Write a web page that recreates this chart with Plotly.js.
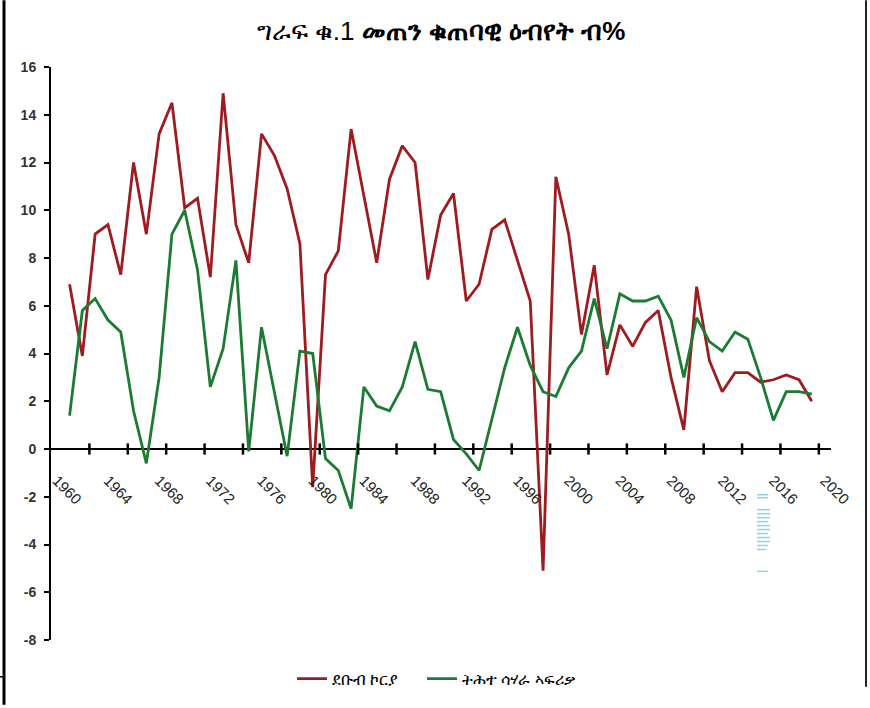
<!DOCTYPE html>
<html>
<head>
<meta charset="utf-8">
<script src="https://cdn.plot.ly/plotly-3.0.1.min.js"></script>
<style>html,body{margin:0;padding:0;background:#fff;}#chart{width:870px;height:708px;}</style>
</head>
<body>
<div id="chart"></div>
<script>
// ---- data ----
const years = [1961,1962,1963,1964,1965,1966,1967,1968,1969,1970,
               1971,1972,1973,1974,1975,1976,1977,1978,1979,1980,
               1981,1982,1983,1984,1985,1986,1987,1988,1989,1990,
               1991,1992,1993,1994,1995,1996,1997,1998,1999,2000,
               2001,2002,2003,2004,2005,2006,2007,2008,2009,2010,
               2011,2012,2013,2014,2015,2016,2017,2018,2019];
const southKorea = [6.9,3.9,9.0,9.4,7.3,12.0,9.0,13.2,14.5,10.1,
                    10.5,7.2,14.9,9.4,7.8,13.2,12.3,10.9,8.6,-1.6,
                    7.3,8.3,13.4,10.6,7.8,11.3,12.7,12.0,7.1,9.8,
                    10.7,6.2,6.9,9.2,9.6,7.9,6.2,-5.1,11.4,9.0,
                    4.8,7.7,3.1,5.2,4.3,5.3,5.8,3.0,0.8,6.8,
                    3.7,2.4,3.2,3.2,2.8,2.9,3.1,2.9,2.0];
const subSaharanAfrica = [1.4,5.8,6.3,5.4,4.9,1.6,-0.6,3.0,9.0,10.0,
                          7.5,2.6,4.2,7.9,-0.1,5.1,2.4,-0.3,4.1,4.0,
                          -0.4,-0.9,-2.5,2.6,1.8,1.6,2.6,4.5,2.5,2.4,
                          0.4,-0.2,-0.9,1.2,3.4,5.1,3.5,2.4,2.2,3.4,
                          4.1,6.3,4.2,6.5,6.2,6.2,6.4,5.4,3.0,5.5,
                          4.5,4.1,4.9,4.6,3.0,1.2,2.4,2.4,2.3];
const xTickLabels = ['1960','1964','1968','1972','1976','1980','1984','1988',
                     '1992','1996','2000','2004','2008','2012','2016','2020'];
const yTickLabels = ['16','14','12','10','8','6','4','2','0','-2','-4','-6','-8'];
const titleText = 'ግራፍ ቁ.1 <b>መጠን ቁጠባዊ ዕብየት ብ%</b>';
const seriesNames = ['ደቡብ ኮርያ', 'ትሕተ ሳሃራ ኣፍሪቃ'];

// ---- layout helpers ----
const W = 870, H = 708;
const L = 51, R = 831, T = 67, B = 643;
const xRange = [1959.55, 2020.5];
const px2x = px => (px - L) / (R - L);
const py2y = py => (B - py) / (B - T);
const xTickVals = xTickLabels.map(Number);
const yTickVals = yTickLabels.map(Number);
const markVals = [];
for (let k = 1; k <= 20; k++) markVals.push(xRange[0] + 3 * k);

const txtFont = 'Liberation Sans, Arial, Noto Sans, DejaVu Sans, sans-serif';

const traces = [
  {x: years, y: southKorea, name: seriesNames[0], type: 'scatter', mode: 'lines',
   line: {color: '#9E1B1F', width: 2.8}, legend: 'legend'},
  {x: years, y: subSaharanAfrica, name: seriesNames[1], type: 'scatter', mode: 'lines',
   line: {color: '#1B7B33', width: 2.8}, legend: 'legend2'},
  // small tick marks along the zero-line axis (every 3 category steps)
  {x: markVals, y: markVals.map(() => 0), type: 'scatter', mode: 'markers',
   marker: {symbol: 'line-ns', size: 8, color: '#000000', line: {color: '#000000', width: 2.5}},
   showlegend: false, hoverinfo: 'skip', cliponaxis: false},
  // helper (empty) trace so the label axis exists
  {x: [years[0], years[years.length - 1]], y: [null, null], xaxis: 'x2', type: 'scatter',
   mode: 'lines', showlegend: false, hoverinfo: 'skip'}
];

const artifactShapes = [];
[[757,497,768],[757,500,768],[757,512,770],[757,516,770],[757,520,770],[757,524,768],
 [757,528,770],[757,532,770],[757,536,768],[757,540,770],[757,544,770],[757,548,768],
 [757,552,766],[757,574,768]].forEach(([x0,y,x1]) => {
  artifactShapes.push({type: 'line', xref: 'paper', yref: 'paper',
    x0: px2x(x0), x1: px2x(x1), y0: py2y(y), y1: py2y(y),
    line: {color: '#8fd3ea', width: 1.5}});
});

const legendBase = {orientation: 'h', xanchor: 'left', y: py2y(682), yanchor: 'middle',
  font: {family: txtFont, size: 16, color: '#000000'}, bgcolor: 'rgba(0,0,0,0)'};

const layout = {
  width: W, height: H,
  margin: {l: L, r: W - R, t: T, b: H - B, pad: 0},
  paper_bgcolor: '#ffffff', plot_bgcolor: '#ffffff',
  showlegend: true,
  title: {text: titleText, x: 0.5, xref: 'paper', y: 1 - 31 / H, yanchor: 'middle',
          font: {family: txtFont, size: 26, color: '#000000'}},
  xaxis: {
    range: xRange, showgrid: false, zeroline: false,
    anchor: 'free', position: py2y(451),
    showline: false, showticklabels: false, ticks: ''
  },
  xaxis2: {
    range: xRange, overlaying: 'x', showgrid: false, zeroline: false,
    anchor: 'free', position: py2y(451), side: 'bottom',
    showline: false,
    tickmode: 'array', tickvals: xTickVals, ticktext: xTickLabels,
    ticks: '', tickangle: 45,
    tickfont: {family: txtFont, size: 15, color: '#222222'},
    ticklabelstandoff: 19
  },
  yaxis: {
    range: [-8, 16], showgrid: false,
    zeroline: true, zerolinecolor: '#000000', zerolinewidth: 2,
    showline: true, linecolor: '#000000', linewidth: 2,
    tickmode: 'array', tickvals: yTickVals, ticktext: yTickLabels,
    ticks: 'outside', ticklen: 5, tickwidth: 2, tickcolor: '#000000',
    tickfont: {family: txtFont, size: 14, color: '#333333', weight: 'bold'},
    ticklabelstandoff: 5
  },
  legend: Object.assign({}, legendBase, {x: px2x(292)}),
  legend2: Object.assign({}, legendBase, {x: px2x(422)}),
  shapes: [
    {type: 'line', xref: 'paper', yref: 'paper', x0: px2x(4), x1: px2x(4), y0: py2y(0), y1: py2y(708),
     line: {color: '#000000', width: 3}},
    {type: 'line', xref: 'paper', yref: 'paper', x0: px2x(866), x1: px2x(866), y0: py2y(0), y1: py2y(690),
     line: {color: '#222222', width: 2}},
    {type: 'line', xref: 'paper', yref: 'paper', x0: px2x(0), x1: px2x(4), y0: py2y(680), y1: py2y(680),
     line: {color: '#000000', width: 1.5}}
  ].concat(artifactShapes)
};

Plotly.newPlot('chart', traces, layout, {displayModeBar: false, staticPlot: true});
</script>
</body>
</html>
